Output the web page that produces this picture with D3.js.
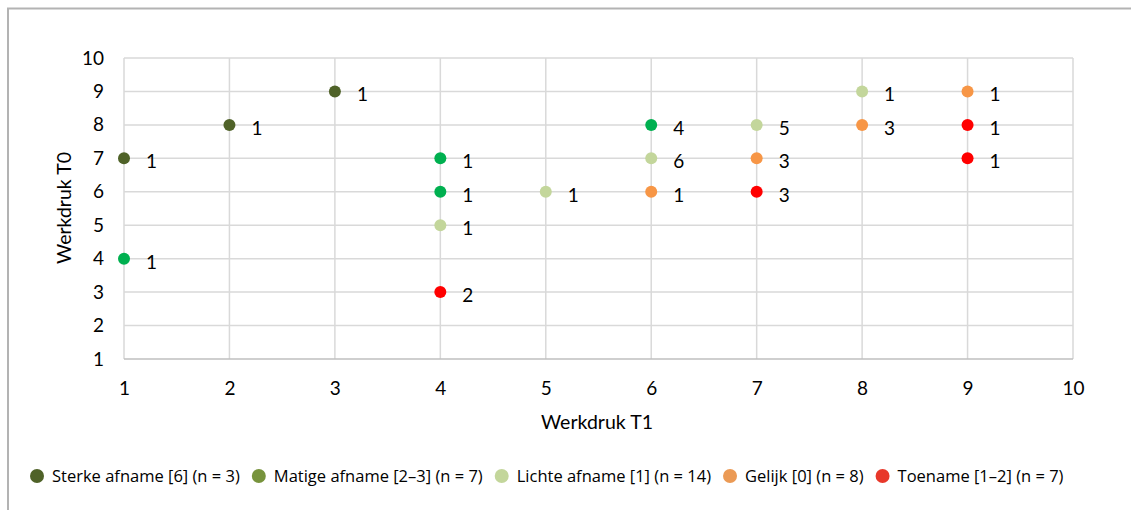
<!DOCTYPE html>
<html>

<head>
    <meta charset="utf-8">
    <title>Werkdruk T0 vs T1</title>
    <script src="https://d3js.org/d3.v7.min.js"></script>
    <style>
        body { margin: 0; background: #fff; }
        text { font-family: Lato, "Open Sans", sans-serif; fill: #000; }
        .legend text { font-family: "Open Sans", Lato, sans-serif; }
    </style>
</head>

<body>
    <svg id="chart"></svg>

    <script>
        // Series (groups), their colours in the plot and in the legend
        const groups = ['Sterke afname [6] (n = 3)', 'Matige afname [2–3] (n = 7)', 'Lichte afname [1] (n = 14)', 'Gelijk [0] (n = 8)', 'Toename [1–2] (n = 7)'];
        const pointColors = ['#4f6228', '#00b050', '#c3d69b', '#f79646', '#ff0000'];
        const legendColors = ['#4f6228', '#77933c', '#c3d69b', '#eb9a55', '#e8382a'];

        // Points per group: T1 (x), T0 (y), number of respondents (label)
        const sterkeT1 = [1, 2, 3];
        const sterkeT0 = [7, 8, 9];
        const sterkeN = [1, 1, 1];

        const matigeT1 = [1, 4, 4, 6];
        const matigeT0 = [4, 7, 6, 8];
        const matigeN = [1, 1, 1, 4];

        const lichteT1 = [4, 5, 6, 7, 8];
        const lichteT0 = [5, 6, 7, 8, 9];
        const lichteN = [1, 1, 6, 5, 1];

        const gelijkT1 = [6, 7, 8, 9];
        const gelijkT0 = [6, 7, 8, 9];
        const gelijkN = [1, 3, 3, 1];

        const toenameT1 = [4, 7, 9, 9];
        const toenameT0 = [3, 6, 8, 7];
        const toenameN = [2, 3, 1, 1];

        const xTicks = [1, 2, 3, 4, 5, 6, 7, 8, 9, 10];
        const yTicks = [1, 2, 3, 4, 5, 6, 7, 8, 9, 10];

        const seriesT1 = [sterkeT1, matigeT1, lichteT1, gelijkT1, toenameT1];
        const seriesT0 = [sterkeT0, matigeT0, lichteT0, gelijkT0, toenameT0];
        const seriesN = [sterkeN, matigeN, lichteN, gelijkN, toenameN];

        const width = 1131;
        const height = 510;

        const svg = d3.select('#chart')
            .attr('width', width)
            .attr('height', height);

        // Chart frame (only top and left edges are visible in the crop)
        svg.append('path')
            .attr('d', `M8,${height} V8.5 H${width}`)
            .attr('fill', 'none')
            .attr('stroke', '#b3b3b3')
            .attr('stroke-width', 2);

        const x = d3.scaleLinear().domain([1, 10]).range([124, 1073]);
        const y = d3.scaleLinear().domain([1, 10]).range([359, 58]);

        // Grid
        svg.append('g')
            .selectAll('line')
            .data(xTicks)
            .enter()
            .append('line')
            .attr('x1', d => x(d))
            .attr('x2', d => x(d))
            .attr('y1', y(1))
            .attr('y2', y(10))
            .attr('stroke', '#d9d9d9')
            .attr('stroke-width', 1.5);

        svg.append('g')
            .selectAll('line')
            .data(yTicks)
            .enter()
            .append('line')
            .attr('x1', x(1))
            .attr('x2', x(10))
            .attr('y1', d => y(d))
            .attr('y2', d => y(d))
            .attr('stroke', d => d === 1 ? '#bfbfbf' : '#d9d9d9')
            .attr('stroke-width', 1.5);

        // Axes (labels only)
        const xAxis = svg.append('g')
            .attr('transform', `translate(0,${y(1)})`)
            .call(d3.axisBottom(x).tickValues(xTicks).tickSize(0).tickPadding(23));
        const yAxis = svg.append('g')
            .attr('transform', `translate(${x(1)},0)`)
            .call(d3.axisLeft(y).tickValues(yTicks).tickSize(0).tickPadding(20));

        [xAxis, yAxis].forEach(a => {
            a.select('.domain').remove();
            a.selectAll('text')
                .attr('font-size', 19)
                .attr('fill', '#000');
        });

        // Axis titles
        svg.append('text')
            .attr('x', 597)
            .attr('y', 429)
            .attr('text-anchor', 'middle')
            .attr('font-size', 19.5)
            .text('Werkdruk T1');

        svg.append('text')
            .attr('transform', 'translate(71,208) rotate(-90)')
            .attr('text-anchor', 'middle')
            .attr('font-size', 19.5)
            .text('Werkdruk T0');

        // Points + data labels
        groups.forEach((g, i) => {
            const pts = seriesT1[i].map((v, j) => ({ x: v, y: seriesT0[i][j], n: seriesN[i][j] }));
            const layer = svg.append('g');

            layer.selectAll('circle')
                .data(pts)
                .enter()
                .append('circle')
                .attr('cx', d => x(d.x))
                .attr('cy', d => y(d.y))
                .attr('r', 6)
                .attr('fill', pointColors[i]);

            layer.selectAll('text')
                .data(pts)
                .enter()
                .append('text')
                .attr('x', d => x(d.x) + 22)
                .attr('y', d => y(d.y) + 10)
                .attr('font-size', 19)
                .text(d => d.n);
        });

        // Legend
        const legend = svg.append('g')
            .attr('class', 'legend')
            .attr('transform', 'translate(0,476)');
        let lx = 37;
        groups.forEach((g, i) => {
            legend.append('circle')
                .attr('cx', lx)
                .attr('cy', 0)
                .attr('r', 7)
                .attr('fill', legendColors[i]);
            const t = legend.append('text')
                .attr('x', lx + 15)
                .attr('y', 6)
                .attr('font-size', 16.5)
                .text(g);
            lx += 15 + t.node().getComputedTextLength() + 19;
        });
    </script>
</body>

</html>
